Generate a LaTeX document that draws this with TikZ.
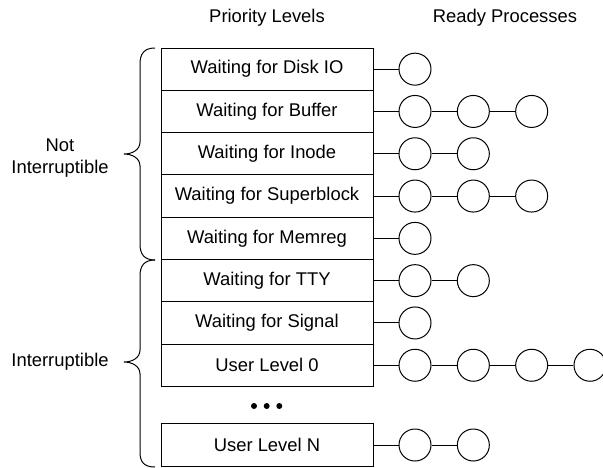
\documentclass[tikz,border=0pt]{standalone}
\usepackage{fontspec}
\setmainfont{Liberation Sans}
\begin{document}
\begin{tikzpicture}[x=1pt,y=-1pt,
  every node/.style={font=\fontsize{18.4}{22}\selectfont},
  box/.style={draw,line width=1pt,minimum width=212pt,minimum height=42.3pt,inner sep=0pt},
  proc/.style={draw,circle,line width=1pt,minimum size=32pt,inner sep=0pt},
  link/.style={line width=1pt},
  brace/.style={line width=1pt},
  lbl/.style={align=center,inner sep=0pt}]
\useasboundingbox (0,0) rectangle (603,467);
\node[lbl] (t1) at (267,18) {Priority Levels};
\node[lbl] (t2) at (505,18) {Ready Processes};
% boxes
\foreach \i/\txt/\n in {1/Waiting for Disk IO/1,2/Waiting for Buffer/3,3/Waiting for Inode/2,4/Waiting for Superblock/3,5/Waiting for Memreg/1,6/Waiting for TTY/2,7/Waiting for Signal/1,8/User Level 0/4}{
  \node[box] (b\i) at (267,{69.15+42.3*(\i-1)}) {\txt};
  \foreach \j in {1,...,\n}{
    \node[proc] (c\i-\j) at ({415+58.33*(\j-1)},{69.15+42.3*(\i-1)}) {};
  }
  \draw[link] (b\i.east) -- (c\i-1.west);
  \ifnum\n>1
    \foreach \j [evaluate=\j as \k using int(\j-1)] in {2,...,\n}{
      \draw[link] (c\i-\k.east) -- (c\i-\j.west);
    }
  \fi
}
\node[box] (b9) at (267,445) {User Level N};
\node[proc] (c9-1) at (415,445) {};
\node[proc] (c9-2) at (473.33,445) {};
\draw[link] (b9.east) -- (c9-1.west);
\draw[link] (c9-1.east) -- (c9-2.west);
% dots
\fill (254,406) circle (3pt) (266.7,406) circle (3pt) (279.3,406) circle (3pt);
% braces
\draw[brace] (155,48) .. controls (144,48) and (140,54) .. (140,64) -- (140,142)
  .. controls (140,150) and (132,154) .. (124,154)
  .. controls (132,154) and (140,158) .. (140,166) -- (140,244)
  .. controls (140,254) and (144,260) .. (155,260);
\draw[brace] (155,260) .. controls (144,260) and (140,266) .. (140,276) -- (140,350)
  .. controls (140,358) and (132,362) .. (124,362)
  .. controls (132,362) and (140,366) .. (140,374) -- (140,452)
  .. controls (140,462) and (144,467) .. (155,467);
\node[lbl] (l1) at (60,158) {Not\\Interruptible};
\node[lbl] (l2) at (60,362) {Interruptible};
\end{tikzpicture}
\end{document}
